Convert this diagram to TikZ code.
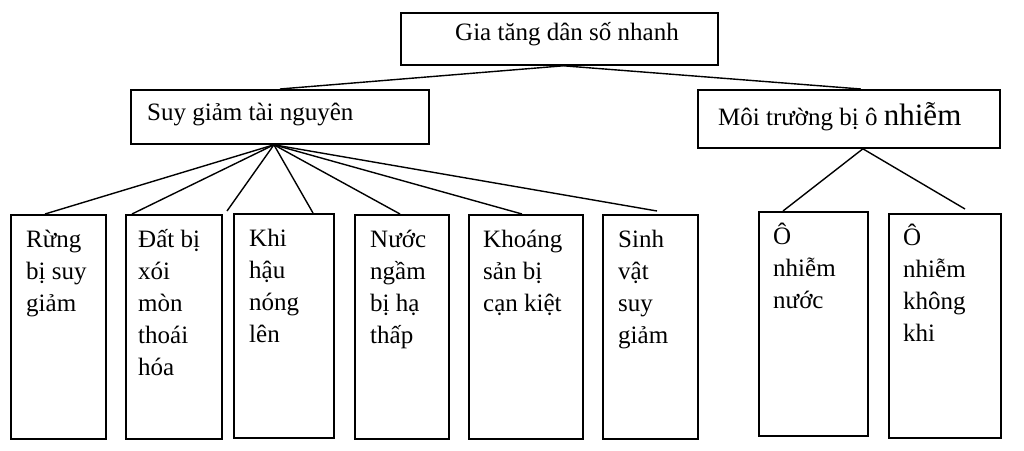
\documentclass[tikz,border=0pt]{standalone}
\usepackage{fontspec}
\setmainfont{Liberation Serif}
\usetikzlibrary{calc}
\newcommand\stacklines[1]{\vtop{\baselineskip=32pt\lineskiplimit=0pt\halign{##\hfil\cr#1\crcr}}}
\begin{document}
\begin{tikzpicture}[x=1pt,y=-1pt,
  frame/.style={draw, line width=1.8pt, inner sep=0pt, anchor=north west},
  tall/.style={frame, minimum height=224pt},
  lbl/.style={anchor=base west, inner sep=0pt, font=\fontsize{25}{32}\selectfont},
  link/.style={line width=1.4pt}]
\useasboundingbox[fill=white] (0,0) rectangle (1024,450);
% boxes
\node[frame, minimum width=317pt, minimum height=52pt] (top) at (400,12) {};
\node[frame, minimum width=298pt, minimum height=54pt] (sg) at (130,89) {};
\node[frame, minimum width=302pt, minimum height=58pt] (mt) at (697,89) {};
\node[tall, minimum width=95pt] (b1) at (10,214) {};
\node[tall, minimum width=96pt] (b2) at (125,214) {};
\node[tall, minimum width=100pt] (b3) at (233,213) {};
\node[tall, minimum width=94pt] (b4) at (354,214) {};
\node[tall, minimum width=114pt] (b5) at (468,214) {};
\node[tall, minimum width=95pt] (b6) at (602,214) {};
\node[tall, minimum width=109pt] (b7) at (758,211) {};
\node[tall, minimum width=112pt] (b8) at (888,213) {};
% texts
\node[lbl] (ttop) at (455,40) {Gia tăng dân số nhanh};
\node[lbl] (tsg) at (147,120) {Suy giảm tài nguyên};
\node[lbl] (tmt) at (718,125) {Môi trường bị ô {\fontsize{31}{36}\selectfont nhiễm}};
\node[lbl] (t1) at (26,247) {\stacklines{Rừng\cr bị suy\cr giảm}};
\node[lbl] (t2) at (138,247) {\stacklines{Đất bị\cr xói\cr mòn\cr thoái\cr hóa}};
\node[lbl] (t3) at (249,246) {\stacklines{Khi\cr hậu\cr nóng\cr lên}};
\node[lbl] (t4) at (370,247) {\stacklines{Nước\cr ngầm\cr bị hạ\cr thấp}};
\node[lbl] (t5) at (483,247) {\stacklines{Khoáng\cr sản bị\cr cạn kiệt}};
\node[lbl] (t6) at (618,247) {\stacklines{Sinh\cr vật\cr suy\cr giảm}};
\node[lbl] (t7) at (773,244) {\stacklines{Ô\cr nhiễm\cr nước}};
\node[lbl] (t8) at (903,245) {\stacklines{Ô\cr nhiễm\cr không\cr khi}};
% connectors
\coordinate (thub) at ($(top.south)+(4,0)$);
\coordinate (shub) at ($(sg.south)+(-6,0)$);
\coordinate (mhub) at ($(mt.south)+(14,0)$);
\draw[link] (thub) -- (sg.north);
\draw[link] (thub) -- ($(mt.north)+(12,0)$);
\draw[link] (shub) -- ($(b1.north west)+(35,0)$);
\draw[link] (shub) -- ($(b2.north west)+(7,0)$);
\draw[link] (shub) -- ($(b3.north west)+(-6,-2)$);
\draw[link] (shub) -- ($(b3.north west)+(80,0)$);
\draw[link] (shub) -- ($(b4.north west)+(46,0)$);
\draw[link] (shub) -- ($(b5.north west)+(54,0)$);
\draw[link] (shub) -- ($(b6.north west)+(55,-3)$);
\draw[link] (mhub) -- ($(b7.north west)+(25,0)$);
\draw[link] (mhub) -- ($(b8.north west)+(77,-4)$);
\end{tikzpicture}
\end{document}
